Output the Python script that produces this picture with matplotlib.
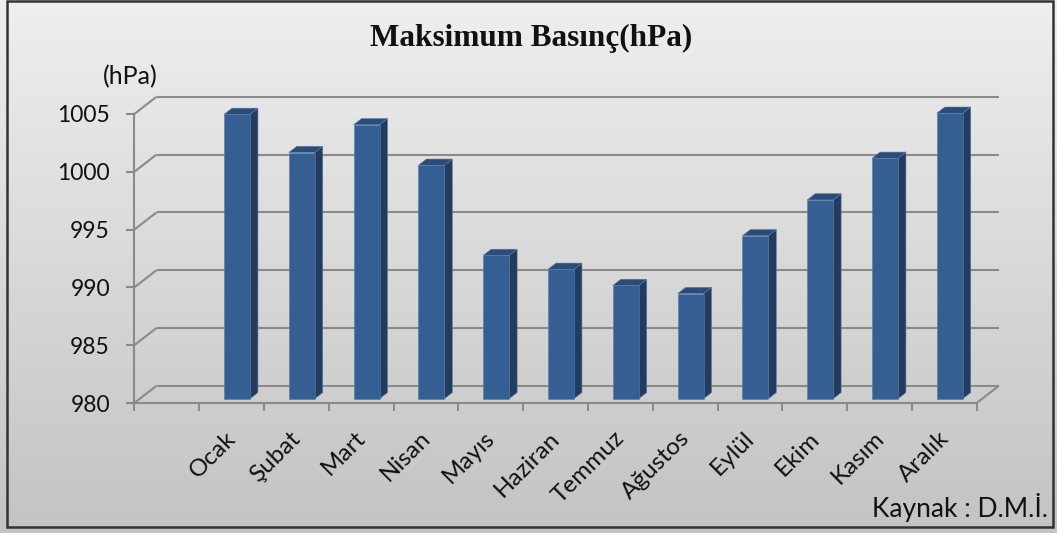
import numpy as np
import matplotlib
matplotlib.use("Agg")
import matplotlib.pyplot as plt
from matplotlib.patches import Polygon, Rectangle
from matplotlib.lines import Line2D
from matplotlib.transforms import IdentityTransform, ScaledTranslation

# ---- data -------------------------------------------------------------
months = ["Ocak", "Şubat", "Mart", "Nisan", "Mayıs", "Haziran",
          "Temmuz", "Ağustos", "Eylül", "Ekim", "Kasım", "Aralık"]
pressure = [1004.6, 1001.3, 1003.7, 1000.2, 992.4, 991.2,
            989.8, 989.1, 994.1, 997.2, 1000.8, 1004.7]
y_ticks = [980, 985, 990, 995, 1000, 1005]
title = "Maksimum Basınç(hPa)"
unit_label = "(hPa)"
source = "Kaynak : D.M.İ."

plt.rcParams['font.family'] = ['Lato', 'DejaVu Sans']

W, H = 1057, 533
DPI = 100
fig = plt.figure(figsize=(W / DPI, H / DPI), dpi=DPI)

# ---- background gradient and frame ------------------------------------
bg = fig.add_axes([0, 0, 1, 1], zorder=-10)
bg.set_axis_off()
t = np.linspace(0, 1, 256)[:, None, None]
c_top = np.array([0.935, 0.935, 0.935])
c_bot = np.array([0.765, 0.765, 0.765])
bg.imshow(c_top + (c_bot - c_top) * t, aspect='auto',
          extent=[0, 1, 0, 1], origin='upper')
bg.set_xlim(0, 1)
bg.set_ylim(0, 1)
bg.add_patch(Rectangle((7 / W, 1 - 527 / H), (1053 - 7) / W, (527 - 1) / H,
                       fill=False, ec='#333333', lw=1.8))

# ---- front plane axes -------------------------------------------------
x0, x1 = 134.3, 976.7
y_top, y_bot = 114.0, 403.0
ax = fig.add_axes([x0 / W, (H - y_bot) / H, (x1 - x0) / W, (y_bot - y_top) / H])
ax.patch.set_alpha(0)
positions = np.arange(1, len(months) + 1)
ax.set_xlim(-0.5, len(months) + 0.5)
ax.set_ylim(y_ticks[0], y_ticks[-1])

grid_c = '#8a8a8a'
grid_lw = 1.5

for s in ('top', 'right'):
    ax.spines[s].set_visible(False)
for s in ('left', 'bottom'):
    ax.spines[s].set_color(grid_c)
    ax.spines[s].set_linewidth(grid_lw)

ax.set_yticks(y_ticks)
ax.tick_params(axis='y', length=5.5, width=grid_lw, color=grid_c,
               pad=12.0, labelsize=16.5, labelcolor='#111111')
ax.set_xticks([])
ax.set_xticks(np.arange(-0.5, len(months) + 1, 1), minor=True)
ax.tick_params(axis='x', which='minor', length=5.5, width=grid_lw,
               color=grid_c, labelbottom=False)

# ---- depth helpers (pixel offsets of the back wall) ------------------
DX, DY = 22.3, 17.3
d_front, d_back = 0.245, 0.604
bar_w = 0.40
fig.canvas.draw()


def P(x, v, d):
    return ax.transData.transform((x, v)) + d * np.array([DX, DY])


def seg(p, q, z=1):
    ax.add_line(Line2D([p[0], q[0]], [p[1], q[1]], color=grid_c, lw=grid_lw,
                       transform=IdentityTransform(), clip_on=False,
                       zorder=z, solid_capstyle='butt'))


xl, xr = ax.get_xlim()
base = y_ticks[0]
for v in y_ticks:
    # back wall line and side wall diagonal
    seg(P(xl, v, 1), P(xr, v, 1))
    seg(P(xl, v, 0), P(xl, v, 1))
# right edge of the floor
seg(P(xr, base, 0), P(xr, base, 1))

# ---- 3D columns -------------------------------------------------------
c_front, c_side, c_top_face = '#355f92', '#223b5f', '#2b4b78'
for i, v in zip(positions, pressure):
    l, r = i - bar_w / 2, i + bar_w / 2
    front = [P(l, base, d_front), P(r, base, d_front),
             P(r, v, d_front), P(l, v, d_front)]
    side = [P(r, base, d_front), P(r, base, d_back),
            P(r, v, d_back), P(r, v, d_front)]
    topf = [P(l, v, d_front), P(r, v, d_front),
            P(r, v, d_back), P(l, v, d_back)]
    for pts, col in ((side, c_side), (topf, c_top_face), (front, c_front)):
        ax.add_patch(Polygon(pts, closed=True, fc=col, ec='#5b7aa6', lw=0.4,
                             transform=IdentityTransform(), clip_on=False,
                             zorder=3))

# ---- category labels --------------------------------------------------
lab_off = ScaledTranslation(1 / DPI, -32 / DPI, fig.dpi_scale_trans)
for i, m in zip(positions, months):
    ax.text(i, base, m, transform=ax.transData + lab_off, rotation=45,
            rotation_mode='anchor', ha='right', va='center',
            fontsize=17.5, color='#111111', clip_on=False)

# ---- titles and notes -------------------------------------------------
fig.text(531 / W, 1 - 38 / H, title, family='Liberation Serif',
         weight='bold', fontsize=22.5, ha='center', va='center',
         color='#111111')
fig.text(130 / W, 1 - 77 / H, unit_label, fontsize=18, ha='center',
         va='center', color='#111111')
fig.text(1048 / W, 1 - 507 / H, source, fontsize=19, ha='right',
         va='center', color='#111111')

fig.savefig('out.png', dpi=DPI)
